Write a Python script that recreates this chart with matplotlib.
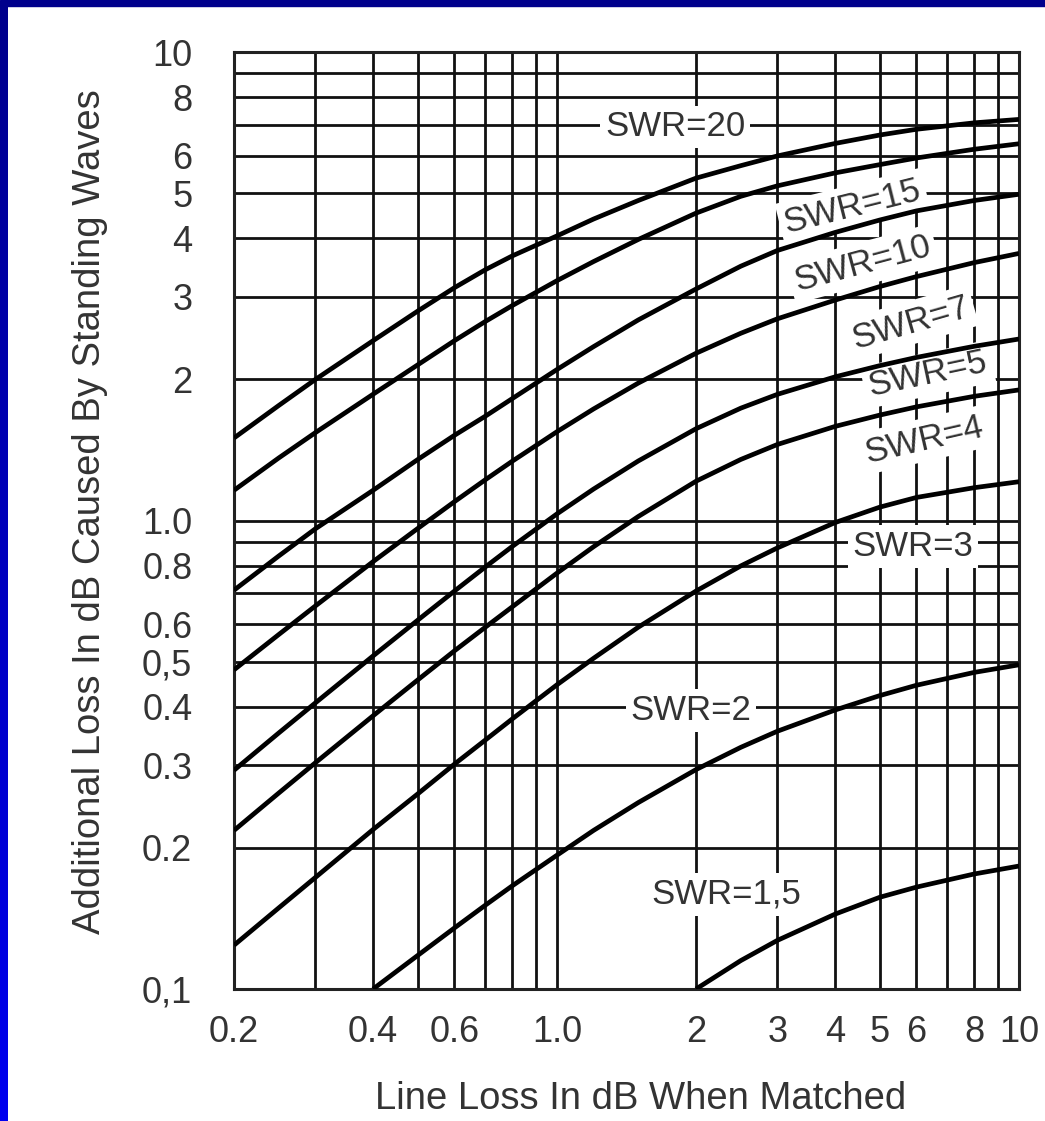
import numpy as np
import matplotlib
matplotlib.use("Agg")
import matplotlib.pyplot as plt
from matplotlib.ticker import FixedLocator, NullFormatter
from matplotlib.colors import LinearSegmentedColormap
from matplotlib.patches import Rectangle

plt.rcParams['font.family'] = ['Liberation Sans', 'DejaVu Sans']

# line loss when matched (dB)
line_loss = [0.2, 0.25, 0.3, 0.4, 0.5, 0.6, 0.7, 0.8, 1.0, 1.2, 1.5, 2, 2.5, 3, 4, 5, 6, 8, 10]

# additional loss (dB) for each SWR curve
swr20 = [1.5, 1.76, 2.0, 2.42, 2.8, 3.14, 3.43, 3.67, 4.05, 4.4, 4.82, 5.38, 5.72, 6.0, 6.38, 6.65, 6.84, 7.06, 7.18]
swr15 = [1.16, 1.36, 1.54, 1.86, 2.15, 2.42, 2.66, 2.875, 3.25, 3.57, 3.98, 4.53, 4.92, 5.18, 5.52, 5.75, 5.94, 6.2, 6.37]
swr10 = [0.71, 0.84, 0.96, 1.16, 1.35, 1.52, 1.67, 1.82, 2.1, 2.35, 2.68, 3.12, 3.49, 3.77, 4.12, 4.38, 4.58, 4.82, 4.97]
swr7 = [0.48, 0.571, 0.657, 0.817, 0.962, 1.097, 1.222, 1.338, 1.547, 1.73, 1.965, 2.275, 2.51, 2.695, 2.954, 3.158, 3.316, 3.552, 3.716]
swr5 = [0.293, 0.352, 0.408, 0.514, 0.613, 0.707, 0.796, 0.88, 1.033, 1.167, 1.34, 1.57, 1.737, 1.859, 2.026, 2.141, 2.229, 2.354, 2.44]
swr4 = [0.218, 0.262, 0.304, 0.383, 0.457, 0.527, 0.592, 0.654, 0.772, 0.879, 1.02, 1.213, 1.35, 1.453, 1.588, 1.679, 1.748, 1.841, 1.9]
swr3 = [0.124, 0.149, 0.173, 0.219, 0.261, 0.302, 0.340, 0.377, 0.446, 0.508, 0.592, 0.707, 0.80, 0.874, 0.99, 1.068, 1.12, 1.175, 1.21]

line_loss_swr2 = [0.4, 0.5, 0.6, 0.7, 0.8, 1.0, 1.2, 1.5, 2, 2.5, 3, 4, 5, 6, 8, 10]
swr2 = [0.1, 0.118, 0.135, 0.151, 0.166, 0.193, 0.218, 0.25, 0.294, 0.328, 0.355, 0.394, 0.423, 0.445, 0.474, 0.492]

line_loss_swr15 = [2, 2.5, 3, 4, 5, 6, 8, 10]
swr1_5 = [0.1, 0.115, 0.127, 0.1445, 0.157, 0.165, 0.176, 0.183]

curves = [(line_loss, swr20), (line_loss, swr15), (line_loss, swr10), (line_loss, swr7),
          (line_loss, swr5), (line_loss, swr4), (line_loss, swr3),
          (line_loss_swr2, swr2), (line_loss_swr15, swr1_5)]

curve_labels = ['SWR=20', 'SWR=15', 'SWR=10', 'SWR=7', 'SWR=5', 'SWR=4', 'SWR=3', 'SWR=2', 'SWR=1,5']

x_ticks = [0.2, 0.4, 0.6, 1.0, 2, 3, 4, 5, 6, 8, 10]
x_ticklabels = ['0.2', '0.4', '0.6', '1.0', '2', '3', '4', '5', '6', '8', '10']
x_minor = [0.3, 0.5, 0.7, 0.8, 0.9, 7, 9]
y_ticks = [0.1, 0.2, 0.3, 0.4, 0.5, 0.6, 0.8, 1.0, 2, 3, 4, 5, 6, 8, 10]
y_ticklabels = ['0,1', '0.2', '0.3', '0.4', '0,5', '0.6', '0.8', '1.0', '2', '3', '4', '5', '6', '8', '10']
y_minor = [0.7, 0.9, 7, 9]

W, H = 1045, 1121
fig = plt.figure(figsize=(W / 100, H / 100), dpi=100)
fig.patch.set_facecolor('white')

# blue slide frame: navy bar on top, gradient bar on the left
fig.patches.append(Rectangle((0, 1 - 6 / H), 1, 6 / H, transform=fig.transFigure,
                             color='#00008C', zorder=0))
strip = fig.add_axes([0, 0, 8 / W, 1 - 6 / H])
cmap = LinearSegmentedColormap.from_list('frame', ['#00008C', '#0000F0'])
strip.imshow(np.linspace(0, 1, 256).reshape(-1, 1), cmap=cmap, aspect='auto')
strip.axis('off')

ax = fig.add_axes([234 / W, 1 - 989 / H, 785 / W, 937 / H])
ax.set_xscale('log')
ax.set_yscale('log')
ax.set_xlim(0.2, 10)
ax.set_ylim(0.1, 10)

ax.xaxis.set_major_locator(FixedLocator(x_ticks))
ax.set_xticklabels(x_ticklabels)
ax.xaxis.set_minor_locator(FixedLocator(x_minor))
ax.xaxis.set_minor_formatter(NullFormatter())
ax.yaxis.set_major_locator(FixedLocator(y_ticks))
ax.set_yticklabels(y_ticklabels)
ax.yaxis.set_minor_locator(FixedLocator(y_minor))
ax.yaxis.set_minor_formatter(NullFormatter())

ax.tick_params(which='both', length=0, labelsize=26, labelcolor='#333333')
ax.tick_params(axis='y', pad=30)
ax.tick_params(axis='x', pad=19)

ax.set_axisbelow(True)
ax.grid(which='both', color='#111111', linewidth=2.0)
for sp in ax.spines.values():
    sp.set_linewidth(2.2)
    sp.set_color('#222222')

for xs, ys in curves:
    ax.plot(xs, ys, color='black', linewidth=3.4, zorder=4,
            solid_capstyle='butt', solid_joinstyle='round')

# label placement (axes fraction) and rotation
label_pos = [(0.562, 0.920, 0), (0.788, 0.835, 14), (0.801, 0.774, 15), (0.862, 0.711, 16),
             (0.884, 0.656, 12), (0.879, 0.586, 13), (0.865, 0.472, 0), (0.582, 0.297, 0),
             (0.627, 0.101, 0)]
for text, (fx, fy, rot) in zip(curve_labels, label_pos):
    ax.text(fx, fy, text, transform=ax.transAxes, fontsize=25, color='#333333',
            ha='center', va='center', rotation=rot, rotation_mode='anchor', zorder=3,
            bbox=dict(boxstyle='square,pad=0.14', fc='white', ec='none'))

ax.set_xlabel('Line Loss In dB When Matched', fontsize=27.5, color='#333333')
ax.set_ylabel('Additional Loss In dB Caused By Standing Waves', fontsize=27.5, color='#333333')
ax.xaxis.set_label_coords(0.518, -0.098)
ax.yaxis.set_label_coords(-0.160, 0.509)

fig.savefig('out.png', dpi=100)
